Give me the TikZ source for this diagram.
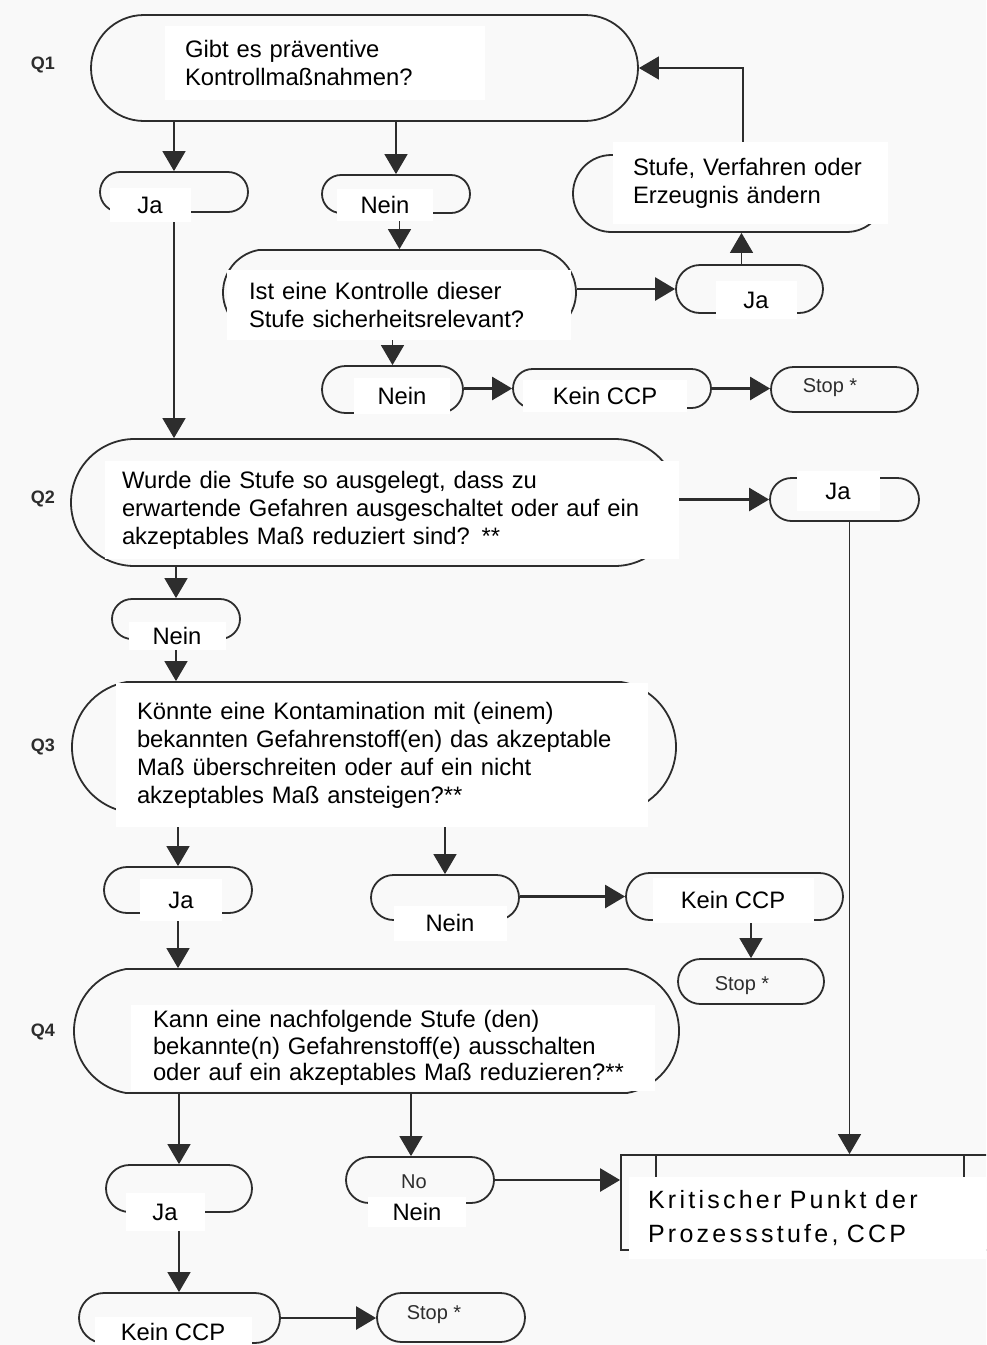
\documentclass[tikz,border=0pt]{standalone}
\usepackage{fontspec}
\setmainfont{Liberation Sans}
\usetikzlibrary{shapes.misc,arrows.meta}
\definecolor{paper}{RGB}{249,249,249}
\definecolor{ink}{RGB}{45,45,45}
\tikzset{
  box/.style={draw=ink, line width=1.8pt, rounded rectangle, inner sep=0pt, rounded rectangle arc length=180},
  arr/.style={draw=ink, line width=1.4pt, -{Triangle[length=20pt,width=23pt]}},
  harr/.style={arr, line width=2.6pt},
  txt/.style={fill=white, inner sep=0pt, font=\fontsize{23.8}{28}\selectfont, text=black},
  big/.style={txt, align=left},
  scan/.style={font=\fontsize{20}{22}\selectfont, text=ink, inner sep=0pt},
  qlab/.style={font=\fontsize{18}{20}\selectfont\bfseries, text=ink, inner sep=0pt},
}
\begin{document}
\begin{tikzpicture}[x=1pt,y=-1pt]
\fill[paper] (0,0) rectangle (986,1345);
\useasboundingbox (0,0) rectangle (986,1345);
\clip (0,0) rectangle (986,1345);

% ---------- shapes ----------
\node[box, minimum width=547, minimum height=106] (Q1) at (364.5,68) {};
\node[box, minimum width=148, minimum height=40] (Ja1) at (174,192) {};
\node[box, minimum width=148, minimum height=38] (Nein1) at (396,194) {};
\node[box, minimum width=353, minimum height=85, rounded rectangle arc length=160] (Q1b) at (399.5,292.5) {};
\node[box, minimum width=147, minimum height=48] (Ja2) at (749.5,289) {};
\node[box, minimum width=312, minimum height=77] (Stufe) at (729,193.5) {};
\node[box, minimum width=141, minimum height=47] (Nein2) at (392.5,389.5) {};
\node[box, minimum width=198, minimum height=39] (Kein1) at (612,388.5) {};
\node[box, minimum width=147, minimum height=45] (Stop1) at (844.5,389.5) {};
\node[box, minimum width=607, minimum height=127] (Q2) at (374.5,502.5) {};
\node[box, minimum width=149, minimum height=43] (Ja3) at (844.5,499.5) {};
\node[box, minimum width=128, minimum height=40] (Nein3) at (176,619) {};
\node[box, minimum width=604, minimum height=130, rounded rectangle arc length=160] (Q3) at (374,747) {};
\node[box, minimum width=148, minimum height=46] (Ja4) at (178,890) {};
\node[box, minimum width=148, minimum height=45] (Nein4) at (445,897.5) {};
\node[box, minimum width=217, minimum height=47] (Kein2) at (734.5,896.5) {};
\node[box, minimum width=146, minimum height=45] (Stop2) at (751,981.5) {};
\node[box, minimum width=605, minimum height=124, rounded rectangle arc length=160] (Q4) at (376.5,1031) {};
\node[box, minimum width=146, minimum height=47] (Ja5) at (179,1188.5) {};
\node[box, minimum width=148, minimum height=46] (Nein5) at (420,1180) {};
\node[draw=ink, line width=1.8pt, rectangle, inner sep=0pt, minimum width=379, minimum height=95] (ccp) at (810.5,1202.5) {};
\draw[draw=ink, line width=1.8pt] ([xshift=36]ccp.north west) -- ++(0,24);
\draw[draw=ink, line width=1.8pt] ([xshift=344]ccp.north west) -- ++(0,24);
\node[box, minimum width=201, minimum height=50] (Kein3) at (179.5,1318) {};
\node[box, minimum width=148, minimum height=49] (Stop3) at (451,1317.5) {};

% ---------- connectors ----------
\draw[arr] (Q1.south -| Ja1.north) -- (Ja1.north);
\draw[arr] (Q1.south -| Nein1.north) -- (Nein1.north);
\draw[arr] (Q1b.north |- Nein1.south) -- (Q1b.north);
\draw[harr] (Q1b.east |- Ja2.west) -- (Ja2.west);
\draw[arr] ([xshift=-8]Ja2.north) -- ([xshift=-8]Ja2.north |- Stufe.south);
\draw[arr] ([xshift=14]Stufe.north) |- (Q1.east);
\draw[arr] (Q1b.south -| Nein2.north) -- (Nein2.north);
\draw[harr] (Nein2.east |- Kein1.west) -- (Kein1.west);
\draw[harr] (Kein1.east) -- (Kein1.east -| Stop1.west);
\draw[arr] (Ja1.south) -- (Ja1.south |- Q2.north);
\draw[harr] (Q2.east |- Ja3.west) -- (Ja3.west);
\draw[arr] ([xshift=5]Ja3.south) -- ([xshift=5]Ja3.south |- ccp.north);
\draw[arr] (Q2.south -| Nein3.north) -- (Nein3.north);
\draw[arr] (Nein3.south) -- (Nein3.south |- Q3.north);
\draw[arr] (Q3.south -| Ja4.north) -- (Ja4.north);
\draw[arr] (Q3.south -| Nein4.north) -- (Nein4.north);
\draw[harr] (Nein4.east |- Kein2.west) -- (Kein2.west);
\draw[arr] (Stop2.north |- Kein2.south) -- (Stop2.north);
\draw[arr] (Ja4.south) -- (Ja4.south |- Q4.north);
\draw[arr] (Q4.south -| Ja5.north) -- (Ja5.north);
\draw[arr] ([xshift=-9]Q4.south -| Nein5.north) -- ([xshift=-9]Nein5.north);
\draw[harr] (Nein5.east) -- (Nein5.east -| ccp.west);
\draw[arr] (Ja5.south) -- (Ja5.south |- Kein3.north);
\draw[harr] (Kein3.east) -- (Kein3.east -| Stop3.west);

% ---------- labels ----------
\node[qlab] (lQ1) at (43,65) {Q1};
\node[qlab] (lQ2) at (43,499) {Q2};
\node[qlab] (lQ3) at (43,747) {Q3};
\node[qlab] (lQ4) at (43,1032) {Q4};

% ---------- texts ----------
\node[big, text width=280, inner xsep=20, inner ysep=14] (tQ1) at (325,63)
  {Gibt es präventive\\Kontrollmaßnahmen?};
\node[txt, minimum width=81, minimum height=34] (tJa1) at (150,205) {Ja};
\node[txt, minimum width=96, minimum height=32] (tNein1) at (385,205) {Nein};
\node[big, text width=300, inner xsep=22, inner ysep=12] (tQ1b) at (399,305)
  {Ist eine Kontrolle dieser\\Stufe sicherheitsrelevant?};
\node[big, text width=235, inner xsep=20, inner ysep=16] (tStufe) at (750.5,183)
  {Stufe, Verfahren oder\\Erzeugnis ändern};
\node[txt, minimum width=81, minimum height=38] (tJa2) at (756,300) {Ja};
\node[txt, minimum width=96, minimum height=36] (tNein2) at (402,396) {Nein};
\node[txt, minimum width=164, minimum height=32] (tKein1) at (605,396) {Kein CCP};
\node[scan] (tStop1) at (830,388) {Stop *};
\node[big, text width=540, inner xsep=17, inner ysep=10] (tQ2) at (392,510)
  {Wurde die Stufe so ausgelegt, dass zu\\erwartende Gefahren ausgeschaltet oder auf ein\\akzeptables Maß reduziert sind? **};
\node[txt, minimum width=83, minimum height=40] (tJa3) at (838,491) {Ja};
\node[txt, minimum width=97, minimum height=28] (tNein3) at (177,636) {Nein};
\node[big, text width=490, inner xsep=21, inner ysep=19] (tQ3) at (382,755)
  {Könnte eine Kontamination mit (einem)\\bekannten Gefahrenstoff(en) das akzeptable\\Maß überschreiten oder auf ein nicht\\akzeptables Maß ansteigen?**};
\node[txt, minimum width=82, minimum height=42] (tJa4) at (181,900) {Ja};
\node[txt, minimum width=113, minimum height=35] (tNein4) at (450,923) {Nein};
\node[txt, minimum width=161, minimum height=45] (tKein2) at (733,900) {Kein CCP};
\node[scan] (tStop2) at (742,986) {Stop *};
\node[big, text width=480, inner xsep=22, inner ysep=5, font=\fontsize{23.8}{26.5}\selectfont] (tQ4) at (393,1048)
  {Kann eine nachfolgende Stufe (den)\\bekannte(n) Gefahrenstoff(e) ausschalten\\oder auf ein akzeptables Maß reduzieren?**};
\node[txt, minimum width=79, minimum height=38] (tJa5) at (165,1212) {Ja};
\node[scan] (tNo) at (414,1182) {No};
\node[txt, minimum width=98, minimum height=30] (tNein5) at (417,1212) {Nein};
\node[big, text width=330, inner xsep=19, inner ysep=13, font=\fontsize{25}{34}\selectfont\addfontfeatures{LetterSpace=13}] (tCCP) at (813,1218)
  {Kritischer Punkt der\\Prozessstufe, CCP};
\node[txt, minimum width=157, minimum height=30] (tKein3) at (173,1332) {Kein CCP};
\node[scan] (tStop3) at (434,1315) {Stop *};
\end{tikzpicture}
\end{document}
